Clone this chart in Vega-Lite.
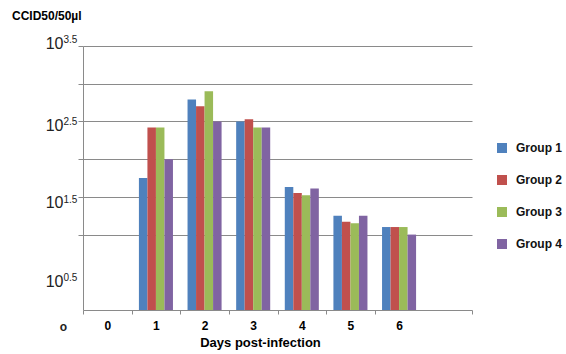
{
  "$schema": "https://vega.github.io/schema/vega-lite/v6.json",
  "width": 389,
  "height": 264,
  "autosize": {"type": "none"},
  "padding": {"left": 83, "top": 46, "right": 94, "bottom": 44},
  "background": "white",
  "title": {
    "text": "CCID50/50µl",
    "anchor": "start",
    "frame": "group",
    "dx": -71,
    "font": "Liberation Sans",
    "fontSize": 12,
    "fontWeight": "bold",
    "color": "#000000",
    "baseline": "bottom",
    "offset": 0
  },
  "data": {
    "values": [
      {"day": "1", "group": "Group 1", "log10_titer": 1.75},
      {"day": "1", "group": "Group 2", "log10_titer": 2.42},
      {"day": "1", "group": "Group 3", "log10_titer": 2.42},
      {"day": "1", "group": "Group 4", "log10_titer": 2.0},
      {"day": "2", "group": "Group 1", "log10_titer": 2.79},
      {"day": "2", "group": "Group 2", "log10_titer": 2.7},
      {"day": "2", "group": "Group 3", "log10_titer": 2.9},
      {"day": "2", "group": "Group 4", "log10_titer": 2.5},
      {"day": "3", "group": "Group 1", "log10_titer": 2.5},
      {"day": "3", "group": "Group 2", "log10_titer": 2.53},
      {"day": "3", "group": "Group 3", "log10_titer": 2.42},
      {"day": "3", "group": "Group 4", "log10_titer": 2.42},
      {"day": "4", "group": "Group 1", "log10_titer": 1.63},
      {"day": "4", "group": "Group 2", "log10_titer": 1.55},
      {"day": "4", "group": "Group 3", "log10_titer": 1.52},
      {"day": "4", "group": "Group 4", "log10_titer": 1.61},
      {"day": "5", "group": "Group 1", "log10_titer": 1.25},
      {"day": "5", "group": "Group 2", "log10_titer": 1.17},
      {"day": "5", "group": "Group 3", "log10_titer": 1.15},
      {"day": "5", "group": "Group 4", "log10_titer": 1.25},
      {"day": "6", "group": "Group 1", "log10_titer": 1.1},
      {"day": "6", "group": "Group 2", "log10_titer": 1.1},
      {"day": "6", "group": "Group 3", "log10_titer": 1.1},
      {"day": "6", "group": "Group 4", "log10_titer": 1.0}
    ]
  },
  "encoding": {
    "x": {
      "field": "day",
      "type": "nominal",
      "scale": {"domain": ["0", "1", "2", "3", "4", "5", "6", "7"], "paddingInner": 0, "paddingOuter": 0},
      "axis": {
        "title": "Days post-infection",
        "titleFont": "Liberation Sans",
        "titleFontSize": 13,
        "titleFontWeight": "bold",
        "titleColor": "#000000",
        "titleX": 177,
        "titlePadding": 5,
        "labelAngle": 0,
        "labelExpr": "datum.value == '7' ? '' : datum.value",
        "labelFont": "Liberation Sans",
        "labelFontSize": 12,
        "labelFontWeight": "bold",
        "labelColor": "#000000",
        "labelPadding": 6,
        "tickBand": "extent",
        "tickSize": 4,
        "tickColor": "#8a8a8a",
        "tickOpacity": {"condition": {"test": "datum.value == '6'", "value": 0}, "value": 1},
        "domainColor": "#8a8a8a",
        "grid": false
      }
    },
    "xOffset": {"field": "group", "type": "nominal", "scale": {"paddingInner": 0, "paddingOuter": 0.857}}
  },
  "layer": [
    {
      "mark": {"type": "bar", "opacity": 0},
      "encoding": {
        "y": {
          "field": "log10_titer",
          "type": "quantitative",
          "scale": {"domain": [0, 3.5], "nice": false, "zero": true},
          "axis": {
            "orient": "left",
            "title": null,
            "values": [0.5, 1.5, 2.5, 3.5],
            "grid": false,
            "ticks": false,
            "tickSize": 0,
            "domain": false,
            "labelExpr": "format(datum.value, '.1f')",
            "labelAlign": "left",
            "labelPadding": 20,
            "labelFont": "Liberation Sans",
            "labelFontSize": 10,
            "labelColor": "#222222",
            "labelOffset": {
              "condition": [
                {"test": "datum.value == 3.5", "value": -6.5},
                {"test": "datum.value == 2.5", "value": 0.5},
                {"test": "datum.value == 1.5", "value": 2.5}
              ],
              "value": 5.5
            }
          }
        }
      }
    },
    {
      "mark": {"type": "bar"},
      "encoding": {
        "y": {
          "field": "log10_titer",
          "type": "quantitative",
          "scale": {"domain": [0, 3.5], "nice": false, "zero": true},
          "axis": {
            "orient": "left",
            "title": null,
            "values": [0, 0.5, 1, 1.5, 2, 2.5, 3, 3.5],
            "grid": true,
            "gridColor": "#8a8a8a",
            "gridOpacity": {"condition": {"test": "datum.value == 0.5 || datum.value == 0", "value": 0}, "value": 1},
            "tickColor": "#8a8a8a",
            "tickOpacity": {"condition": {"test": "datum.value == 0.5 || datum.value == 0", "value": 0}, "value": 1},
            "tickSize": 5,
            "domainColor": "#8a8a8a",
            "labelExpr": "datum.value == 0 ? 'o' : ((datum.value * 2) % 2 == 1 ? '10' : '')",
            "labelFont": "Liberation Sans",
            "labelFontSize": {"condition": {"test": "datum.value == 0", "value": 12}, "value": 16},
            "labelFontWeight": {"condition": {"test": "datum.value == 0", "value": "bold"}, "value": "normal"},
            "labelAlign": {"condition": {"test": "datum.value == 0", "value": "center"}, "value": "right"},
            "labelColor": "#222222",
            "labelPadding": 15,
            "labelOffset": {
              "condition": [
                {"test": "datum.value == 3.5", "value": -3},
                {"test": "datum.value == 2.5", "value": 4},
                {"test": "datum.value == 1.5", "value": 6},
                {"test": "datum.value == 0", "value": 16}
              ],
              "value": 9
            }
          }
        },
        "color": {
          "field": "group",
          "type": "nominal",
          "scale": {
            "domain": ["Group 1", "Group 2", "Group 3", "Group 4"],
            "range": ["#4F81BD", "#C0504D", "#9BBB59", "#8064A2"]
          },
          "legend": {
            "orient": "none",
            "legendX": 413,
            "legendY": 96,
            "title": null,
            "symbolType": "square",
            "symbolSize": 100,
            "symbolStrokeWidth": 0,
            "labelFont": "Liberation Sans",
            "labelFontSize": 12,
            "labelFontWeight": "bold",
            "labelColor": "#111111",
            "labelOffset": 8,
            "rowPadding": 20
          }
        }
      }
    }
  ],
  "resolve": {"axis": {"y": "independent"}},
  "config": {"view": {"stroke": null}}
}
